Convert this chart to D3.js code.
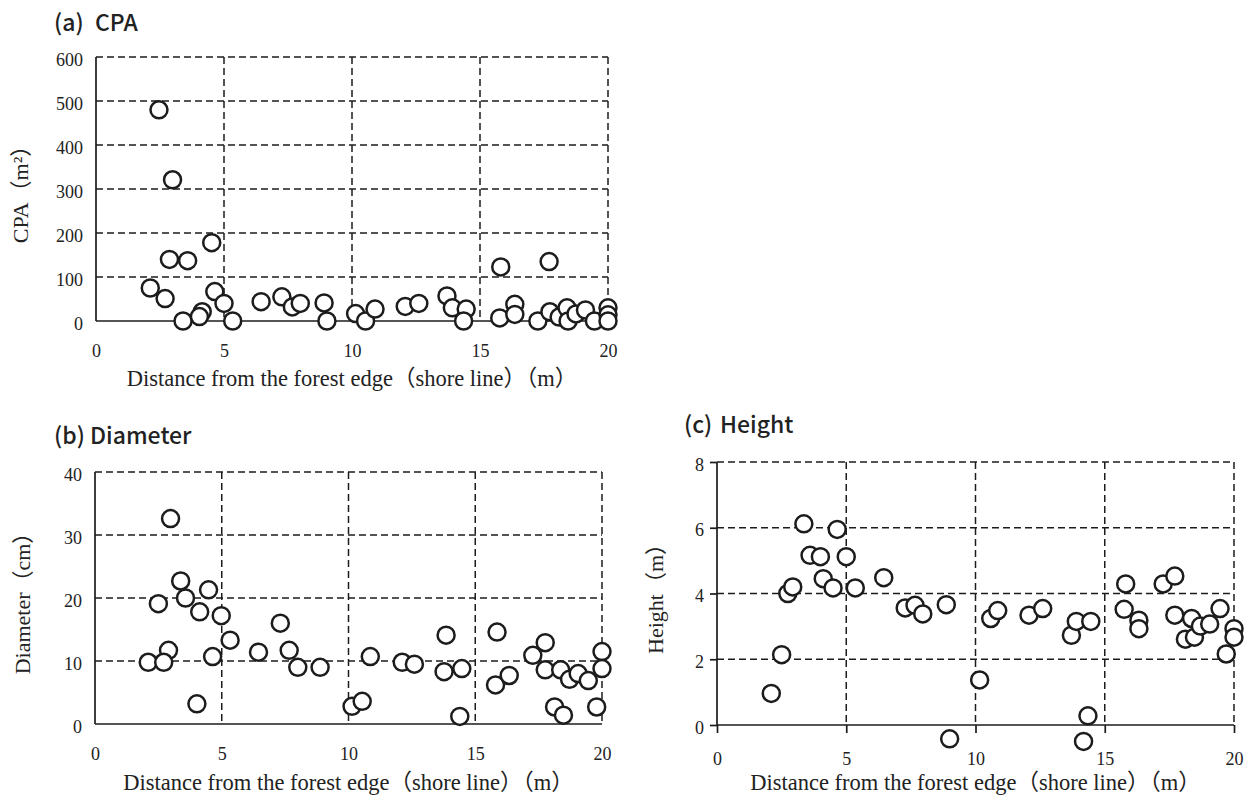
<!DOCTYPE html>
<html>
<head>
<meta charset="utf-8">
<script src="https://cdn.jsdelivr.net/npm/d3@7"></script>
<style>
  html, body { margin: 0; padding: 0; background: #fff; }
  svg { display: block; }
</style>
</head>
<body>
<svg id="chart" width="1250" height="799"></svg>
<script>
// ---------------- data ----------------
const xTicks = [0, 5, 10, 15, 20];
const xTitle = "Distance from the forest edge（shore line）（m）";

// (a) CPA
const cpaTitleTag = "(a)";
const cpaTitleWord = "CPA";
const cpaAxisLabel = "CPA（m²）";
const cpaTicks = [0, 100, 200, 300, 400, 500, 600];
const cpaDist = [2.46, 2.99, 4.52, 2.87, 3.58, 2.12, 2.7, 4.64, 5.0, 3.4, 4.15, 4.04, 5.34,
  6.45, 7.26, 7.67, 7.98, 8.91, 9.02, 10.14, 10.53, 10.9, 12.08, 12.61, 13.71, 13.92, 14.46, 14.36,
  15.81, 15.77, 16.36, 16.36, 17.7, 17.26, 17.73, 18.09, 18.4, 18.44, 18.75, 19.12, 19.47, 20.0, 20.0, 20.0];
const cpaValue = [480, 321, 178, 140, 137, 75, 51, 67, 40, 0, 21, 10, 0,
  44, 55, 32, 40, 41, 0, 17, 0, 27, 33, 40, 57, 30, 27, 0,
  123, 7, 38, 15, 135, 0, 21, 9, 30, 0, 16, 25, 0, 30, 14, 0];

// (b) Diameter
const diaTitleTag = "(b)";
const diaTitleWord = "Diameter";
const diaAxisLabel = "Diameter（cm）";
const diaTicks = [0, 10, 20, 30, 40];
const diaDist = [2.98, 3.38, 4.48, 2.5, 3.57, 4.13, 4.98, 5.33, 2.9, 2.1, 2.71, 4.64, 4.02,
  6.45, 7.31, 7.66, 8.0, 8.88, 10.14, 10.54, 10.86, 12.12, 12.6, 13.85, 13.77, 14.47, 14.39,
  15.86, 15.8, 16.34, 17.76, 17.27, 17.76, 18.37, 18.72, 19.06, 19.46, 18.13, 18.48, 19.79, 20.0, 20.0];
const diaValue = [32.6, 22.7, 21.3, 19.1, 20.0, 17.8, 17.2, 13.3, 11.7, 9.8, 9.8, 10.7, 3.2,
  11.4, 16.0, 11.7, 9.0, 9.0, 2.8, 3.6, 10.7, 9.8, 9.5, 14.1, 8.3, 8.8, 1.2,
  14.6, 6.2, 7.7, 12.9, 10.9, 8.6, 8.6, 7.1, 8.0, 6.9, 2.7, 1.4, 2.7, 11.5, 8.8];

// (c) Height
const hTitleTag = "(c)";
const hTitleWord = "Height";
const hAxisLabel = "Height（m）";
const hTicks = [0, 2, 4, 6, 8];
const hDist = [2.1, 2.5, 2.74, 2.93, 3.36, 4.65, 3.6, 4.0, 5.0, 4.11, 4.49, 5.35, 6.45,
  7.28, 7.66, 7.96, 8.87, 9.0, 10.16, 10.59, 10.86, 12.07, 12.6, 13.71, 13.9, 14.46, 14.35, 14.18,
  15.81, 15.75, 16.32, 16.32, 17.26, 17.71, 17.71, 18.12, 18.36, 18.47, 18.7, 19.06, 19.46, 19.7, 20.0, 20.0];
const hValue = [0.96, 2.14, 4.0, 4.2, 6.12, 5.95, 5.16, 5.12, 5.12, 4.45, 4.17, 4.17, 4.48,
  3.56, 3.64, 3.38, 3.66, -0.42, 1.37, 3.24, 3.48, 3.34, 3.54, 2.73, 3.15, 3.15, 0.28, -0.5,
  4.29, 3.52, 3.19, 2.93, 4.29, 4.53, 3.34, 2.61, 3.24, 2.67, 3.01, 3.07, 3.54, 2.16, 2.93, 2.67];

// ---------------- drawing ----------------
const svg = d3.select("#chart");
const SERIF = "'Liberation Serif', 'Noto Sans CJK JP', serif";
const SANS = "'Noto Sans CJK JP', 'Noto Sans', sans-serif";
const INK = "#1c1c1c";

function panel(cfg) {
  const x = d3.scaleLinear().domain([0, 20]).range([cfg.x0, cfg.x1]);
  const yMax = cfg.yTicks[cfg.yTicks.length - 1];
  const y = d3.scaleLinear().domain([cfg.yTicks[0], yMax]).range([cfg.y0, cfg.y1]);
  const g = svg.append("g");

  // dashed grid
  g.selectAll(".hg").data(cfg.yTicks.filter(d => d !== 0)).join("line")
    .attr("x1", x(0)).attr("x2", x(20))
    .attr("y1", d => y(d)).attr("y2", d => y(d))
    .attr("stroke", INK).attr("stroke-width", 1.5).attr("stroke-dasharray", "7,4");
  g.selectAll(".vg").data(xTicks.filter(d => d !== 0)).join("line")
    .attr("x1", d => x(d)).attr("x2", d => x(d))
    .attr("y1", y(yMax)).attr("y2", y(0))
    .attr("stroke", INK).attr("stroke-width", 1.5).attr("stroke-dasharray", "7,4");

  // axes (solid)
  const yAxis = d3.axisLeft(y).tickValues(cfg.yTicks).tickSize(cfg.ticks ? 7 : 0).tickPadding(cfg.ticks ? 6 : 13);
  const xAxis = d3.axisBottom(x).tickValues(xTicks).tickSize(cfg.ticks ? 8 : 0).tickPadding(cfg.ticks ? 19 : 23);
  const ga = g.append("g").attr("transform", `translate(${x(0)},0)`).call(yAxis);
  const gb = g.append("g").attr("transform", `translate(0,${y(0)})`).call(xAxis);
  [ga, gb].forEach(a => {
    a.select(".domain").attr("stroke", INK).attr("stroke-width", 1.7);
    a.selectAll(".tick line").attr("stroke", INK).attr("stroke-width", 1.7);
    a.selectAll(".tick text").attr("fill", "#222").style("font-family", SERIF).style("font-size", "18px");
  });
  ga.selectAll(".tick text").attr("dy", "0.45em");
  ga.select(".domain").attr("d", `M0,${y(yMax)}V${y(0)}`);
  gb.select(".domain").attr("d", `M${x(0)},0H${x(20)}`);

  // points
  g.selectAll("circle").data(cfg.xs.map((v, i) => [v, cfg.ys[i]])).join("circle")
    .attr("cx", d => x(d[0])).attr("cy", d => y(d[1])).attr("r", 8.5)
    .attr("fill", "#fff").attr("stroke", INK).attr("stroke-width", 2.5);

  // panel title
  const t = svg.append("text").attr("y", cfg.ty)
    .style("font-family", SANS).style("font-size", "23px").style("font-weight", 500).attr("fill", "#222");
  t.append("tspan").attr("x", cfg.tx).text(cfg.tag);
  t.append("tspan").attr("x", cfg.wx).text(cfg.word);

  // axis titles
  svg.append("text").attr("x", (cfg.x0 + cfg.x1) / 2).attr("y", cfg.xLabelY).attr("text-anchor", "middle")
    .text(xTitle).style("font-family", SERIF).style("font-size", "22.5px").attr("fill", "#222");
  svg.append("text")
    .attr("transform", `translate(${cfg.yLabelX},${(cfg.y0 + cfg.y1) / 2}) rotate(-90)`)
    .attr("text-anchor", "middle").attr("dy", "0.35em")
    .text(cfg.yLabel).style("font-family", SERIF).style("font-size", "22px").attr("fill", "#222");
}

panel({ x0: 96, x1: 608, y0: 321, y1: 57, yTicks: cpaTicks, xs: cpaDist, ys: cpaValue,
  tag: cpaTitleTag, word: cpaTitleWord, tx: 54, wx: 95, ty: 31,
  yLabel: cpaAxisLabel, yLabelX: 20, xLabelY: 386, ticks: false });
panel({ x0: 95, x1: 602, y0: 724, y1: 472, yTicks: diaTicks, xs: diaDist, ys: diaValue,
  tag: diaTitleTag, word: diaTitleWord, tx: 54, wx: 90, ty: 444,
  yLabel: diaAxisLabel, yLabelX: 22, xLabelY: 790, ticks: false });
panel({ x0: 717, x1: 1234, y0: 725, y1: 462, yTicks: hTicks, xs: hDist, ys: hValue,
  tag: hTitleTag, word: hTitleWord, tx: 684, wx: 720, ty: 433,
  yLabel: hAxisLabel, yLabelX: 655, xLabelY: 790, ticks: true });
</script>
</body>
</html>
